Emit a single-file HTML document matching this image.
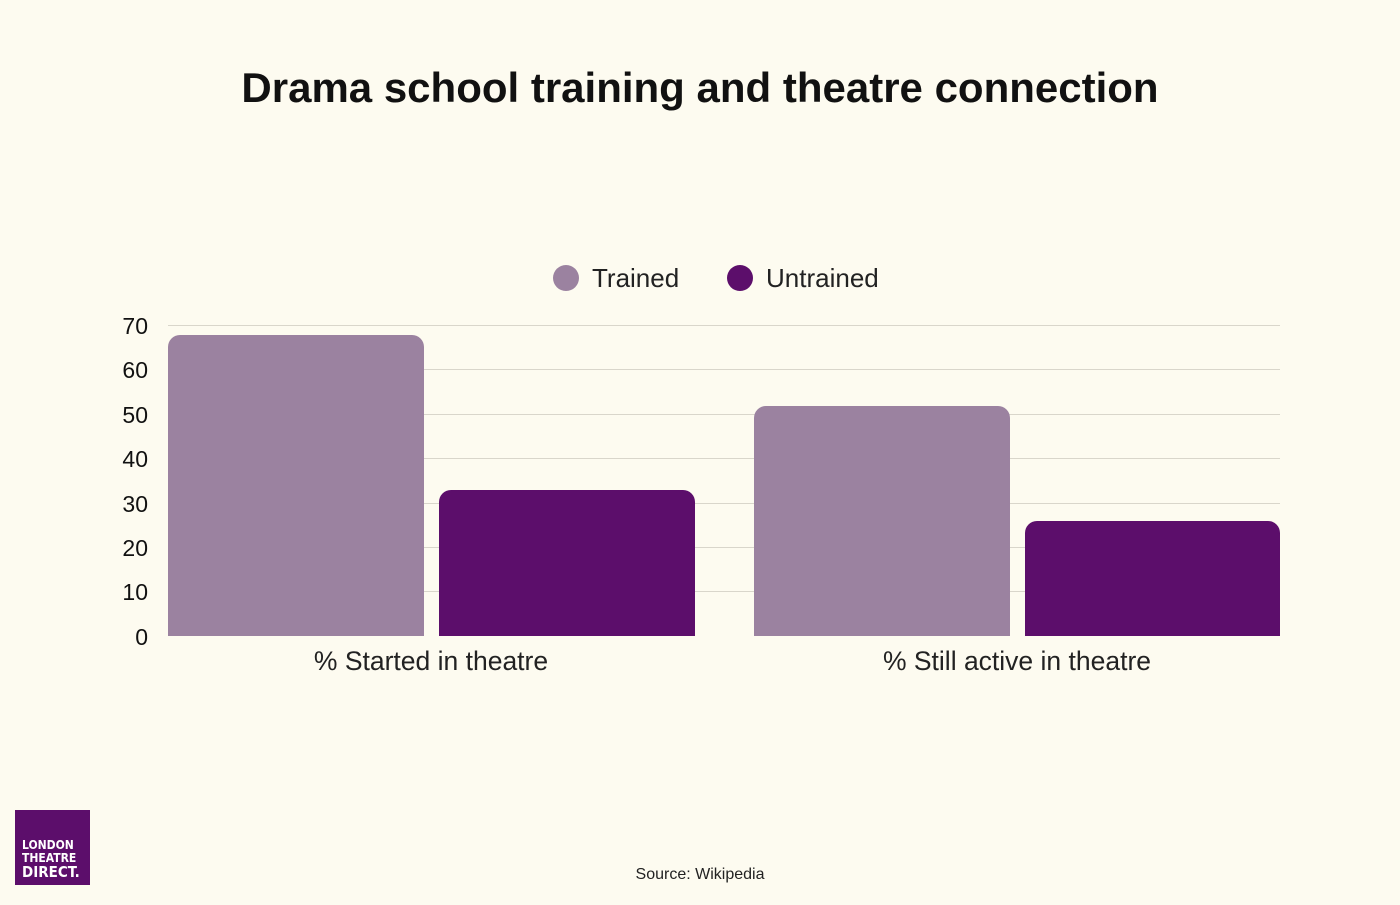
<!DOCTYPE html>
<html><head><style>
body{margin:0;width:1400px;height:900px;background:#fdfbf0;font-family:"Liberation Sans",sans-serif;overflow:hidden}
</style></head><body>
<svg width="1400" height="900" xmlns="http://www.w3.org/2000/svg">
<rect width="1400" height="900" fill="#fdfbf0"/>
<text x="700" y="102" text-anchor="middle" font-size="42" font-weight="bold" fill="#111" font-family="Liberation Sans, sans-serif">Drama school training and theatre connection</text>
<circle cx="566" cy="278" r="13" fill="#9b82a0"/>
<text x="592" y="287" font-size="26" fill="#222">Trained</text>
<circle cx="740" cy="278" r="13" fill="#5c0e6b"/>
<text x="766" y="287" font-size="26" fill="#222">Untrained</text>
<g stroke="#d9d6cb" stroke-width="1">
<line x1="168" x2="1280" y1="325.5" y2="325.5"/>
<line x1="168" x2="1280" y1="369.5" y2="369.5"/>
<line x1="168" x2="1280" y1="414.5" y2="414.5"/>
<line x1="168" x2="1280" y1="458.5" y2="458.5"/>
<line x1="168" x2="1280" y1="503.5" y2="503.5"/>
<line x1="168" x2="1280" y1="547.5" y2="547.5"/>
<line x1="168" x2="1280" y1="591.5" y2="591.5"/>
</g>
<g font-size="23" fill="#111" text-anchor="end">
<text x="148" y="334">70</text><text x="148" y="378">60</text><text x="148" y="423">50</text>
<text x="148" y="467">40</text><text x="148" y="512">30</text><text x="148" y="556">20</text>
<text x="148" y="600">10</text><text x="148" y="645">0</text>
</g>
<path d="M168,636V347a12,12 0 0 1 12,-12H412a12,12 0 0 1 12,12V636Z" fill="#9b82a0"/>
<path d="M439,636V502a12,12 0 0 1 12,-12H683a12,12 0 0 1 12,12V636Z" fill="#5c0e6b"/>
<path d="M754,636V418a12,12 0 0 1 12,-12H998a12,12 0 0 1 12,12V636Z" fill="#9b82a0"/>
<path d="M1025,636V533a12,12 0 0 1 12,-12H1268a12,12 0 0 1 12,12V636Z" fill="#5c0e6b"/>
<g font-size="26.5" fill="#222" text-anchor="middle">
<text x="431" y="670">% Started in theatre</text>
<text x="1017" y="670">% Still active in theatre</text>
</g>
<text x="700" y="879" font-size="16" fill="#222" text-anchor="middle">Source: Wikipedia</text>
<rect x="15" y="810" width="75" height="75" fill="#5c0e6b"/>
<g fill="#fff" font-weight="bold" font-family="DejaVu Sans Condensed, Liberation Sans, sans-serif">
<text x="22" y="849" font-size="12">LONDON</text>
<text x="22" y="862" font-size="12">THEATRE</text>
<text x="22" y="877" font-size="15">DIRECT.</text>
</g>
</svg>
</body></html>
